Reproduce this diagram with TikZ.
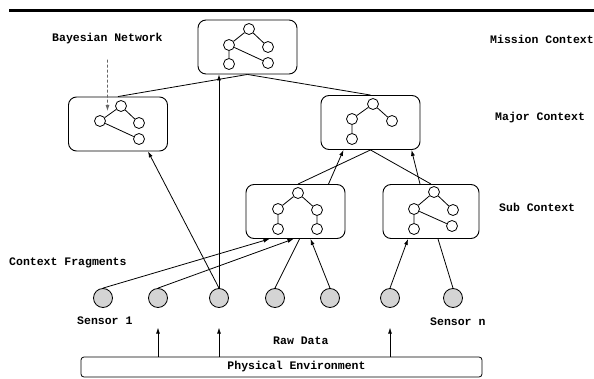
\documentclass[tikz,border=0pt]{standalone}
\usepackage{fontspec}
\setmonofont{Liberation Mono}
\usetikzlibrary{arrows.meta}
\tikzset{
	ctx/.style={draw,rounded corners=8pt,line width=0.9pt,minimum width=99pt,minimum height=54pt,inner sep=0pt},
	bn/.style={draw,circle,line width=0.8pt,minimum size=11pt,inner sep=0pt,fill=white},
	sensor/.style={draw,circle,line width=0.8pt,fill=black!17,minimum size=19pt,inner sep=0pt},
	lbl/.style={font=\ttfamily\bfseries\fontsize{11.5}{13}\selectfont,anchor=west,inner sep=0pt},
	arr/.style={-{Latex[length=6pt,width=4pt]},line width=0.8pt},
	ln/.style={line width=0.8pt}
}
\begin{document}
\begin{tikzpicture}[x=1pt,y=-1pt]
	\useasboundingbox (0,0) rectangle (594,379);
	\draw[line width=2.2pt] (9,10.5) -- (594,10.5);
	% context boxes
	\node[ctx] (mis) at (247.5,47) {};
	\node[ctx] (majL) at (118,124) {};
	\node[ctx] (majR) at (370.5,122.5) {};
	\node[ctx] (subL) at (295.5,211.5) {};
	\node[ctx,minimum width=96pt] (subR) at (431,211.5) {};
	% bayesian networks
	\node[bn] (m1) at (249,29) {};
	\node[bn] (m2) at (229,45) {};
	\node[bn] (m3) at (268,47) {};
	\node[bn] (m4) at (229,64) {};
	\node[bn] (m5) at (268,63) {};
	\draw[ln] (m1) -- (m2) (m1) -- (m3) (m2) -- (m4) (m2) -- (m5);
	\node[bn] (a1) at (121,106) {};
	\node[bn] (a2) at (100,121) {};
	\node[bn] (a3) at (139,123) {};
	\node[bn] (a4) at (139,139) {};
	\draw[ln] (a1) -- (a2) (a1) -- (a3) (a2) -- (a4);
	\node[bn] (b1) at (373,104) {};
	\node[bn] (b2) at (352,119) {};
	\node[bn] (b3) at (392,121) {};
	\node[bn] (b4) at (352,139) {};
	\draw[ln] (b1) -- (b2) (b1) -- (b3) (b2) -- (b4);
	\node[bn] (c1) at (298,193) {};
	\node[bn] (c2) at (278,209) {};
	\node[bn] (c3) at (317,210) {};
	\node[bn] (c4) at (278,229) {};
	\node[bn] (c5) at (317,229) {};
	\draw[ln] (c1) -- (c2) (c1) -- (c3) (c2) -- (c4) (c3) -- (c5);
	\node[bn] (d1) at (434,192) {};
	\node[bn] (d2) at (414,209) {};
	\node[bn] (d3) at (453,210) {};
	\node[bn] (d4) at (414,229) {};
	\node[bn] (d5) at (452,226) {};
	\draw[ln] (d1) -- (d2) (d1) -- (d3) (d2) -- (d4) (d2) -- (d5);
	% sensors
	\foreach \i/\x in {1/103,2/158,3/219,4/275,5/330,6/390,7/453}
		\node[sensor] (s\i) at (\x,298) {};
	\node[draw,rounded corners=3pt,line width=0.8pt,minimum width=401pt,minimum height=20pt] (env) at (281.5,367) {};
	\node[lbl,anchor=center] (envtxt) at (296.5,367) {Physical Environment};
	% labels
	\node[lbl] (bnlbl) at (52,39) {Bayesian Network};
	\node[lbl] (mislbl) at (490,39) {Mission Context};
	\node[lbl] (majlbl) at (495,118) {Major Context};
	\node[lbl] (sublbl) at (499,207) {Sub Context};
	\node[lbl] (fraglbl) at (9,263) {Context Fragments};
	\node[lbl] (s1lbl) at (77,321) {Sensor 1};
	\node[lbl] (snlbl) at (430,322) {Sensor n};
	\node[lbl] (rawlbl) at (273,341) {Raw Data};
	% connectors
	\coordinate (bntip) at (107.5,111);
	\draw[arr,dash pattern=on 3pt off 2pt,black!60] ([yshift=-15pt]bnlbl.south) -- (bntip);
	\draw[ln] (mis.south) -- (majL.north);
	\draw[ln] (mis.south) -- (majR.north);
	\draw[ln] (majR.south) -- (subL.north -| c1);
	\draw[ln] (majR.south) -- (subR.north);
	\draw[arr] ([xshift=33pt]subL.north) -- ([xshift=-27pt]majR.south);
	\draw[arr] ([xshift=-11pt]subR.north) -- ([xshift=41pt]majR.south);
	\draw[arr] (s3.north) -- (s3 |- mis.south);
	\draw[arr] (s3.north) -- ([xshift=30pt]majL.south);
	\draw[arr] (s1.north) -- ([xshift=-26pt]subL.south);
	\draw[arr] (s2.north) -- ([xshift=-2pt]subL.south);
	\draw[ln] (s4.north) -- ([xshift=4pt]subL.south);
	\draw[arr] (s5.north) -- ([xshift=15pt]subL.south);
	\draw[arr] (s6.north) -- ([xshift=-23pt]subR.south);
	\draw[ln] (s7.north) -- ([xshift=7pt]subR.south);
	\foreach \s in {s2,s3,s6}
		\draw[arr] (env.north -| \s) -- ++(0,-29);
\end{tikzpicture}
\end{document}
